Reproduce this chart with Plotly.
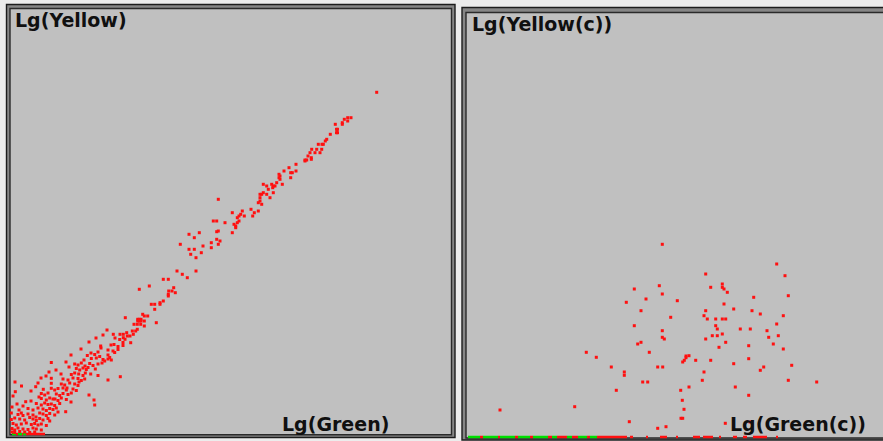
import plotly.graph_objects as go

W, H = 883, 441

# ---- Lg(Green) / Lg(Yellow) dot plot (channel units) ----
upper_green = [365.7, 340, 336.7, 333.3, 336.7, 331.3, 331.3, 324.3, 325.5, 326.5,
               325.5, 326.5, 319.3, 315.7, 314.3, 307.3, 311, 312.3, 305.7, 310.7,
               300.7, 299, 304, 309, 297, 300.3, 300.3, 294, 295.7, 294,
               285, 278, 273, 285, 279.7, 281.3, 279.7, 268, 268, 269,
               269, 265.7, 271.3, 260.7, 262.3, 264, 261.7, 252.3, 255.7, 257.3,
               262.3, 252.3, 249, 250.7, 255.7, 249, 259, 207.3, 249, 247.3,
               250.7, 240, 231.3, 247.3, 221.3, 243.3, 229.7, 228, 226.3, 233.3,
               241.7, 228, 226.3, 202.3, 205.7, 214, 223, 224.7, 224.7]
upper_yellow = [341.7, 316.3, 316.3, 314.7, 313, 311.3, 309.7, 309.7, 304.7, 304.7,
                301.3, 301.3, 299.7, 294.7, 293, 289.7, 289.7, 289.7, 284.7, 284.7,
                284.7, 281.3, 281.3, 281.3, 278, 276.3, 274.7, 274, 274, 273,
                269.7, 266.3, 263, 263, 261.3, 261.3, 256.3, 259.7, 256.3, 258,
                254.7, 251.3, 249.7, 249.7, 248, 248, 246.3, 249.7, 248, 244.7,
                241.3, 241.3, 239.7, 239.7, 239.7, 236.3, 236.3, 234.7, 233, 231.3,
                229.7, 224.7, 223, 223, 221.3, 221.3, 219.7, 218, 216.3, 218,
                218, 213, 211.3, 213, 213, 211.3, 209.7, 208, 206.3]

middle_green = [221.3, 205.7, 207.3, 178, 188.3, 183.3, 205.7, 209, 200.3, 207.3,
                169.3, 192, 200.3, 178, 183.3, 190.3, 179.7, 185, 166, 185,
                171.3, 176.3, 152.3, 157.3, 138.3, 162.7, 128.3, 157.7, 161, 164.3,
                157.3, 157.3, 152.3, 149, 149, 140.3, 143.7, 143.7, 131.7, 133.3,
                136.7, 114.3, 126.7, 128.3, 130, 126.7, 128.3, 130, 133.3, 123,
                126.3, 129.7, 133.3, 145.3, 126.3, 124.7, 121.3, 102.3, 109, 112.3,
                115.7, 119, 122.3, 112.3, 114, 116.3]
middle_yellow = [201.3, 202.3, 203, 199.7, 201.3, 196.3, 194.7, 193, 191.3, 189.7,
                 189.7, 188, 186.3, 184.7, 184.7, 181.3, 179.7, 176.3, 163, 163,
                 159.7, 156.3, 154.7, 154.7, 148, 146.3, 144.7, 143, 143, 141.3,
                 139.7, 138, 133, 131.3, 129.7, 129.7, 129.7, 124.7, 119.7, 118,
                 118, 116.3, 114.7, 114.7, 114.7, 113, 113, 113, 113, 109.7,
                 109.7, 109.7, 108, 111.3, 104.7, 103, 103, 99.7, 99.7, 99.7,
                 101.3, 98, 99.7, 96.3, 94.7, 98]

lower_green = [108.7, 112, 119.7,
               89.7, 103, 107, 112,
               87, 97, 102, 103.7, 107,
               76.3, 83.7, 88.7, 97,
               73, 80.3, 85.3, 92, 93.7, 97, 98.7, 100.3,
               40.3, 63.7, 67, 70.3, 78.7, 82, 87, 91,
               65.3, 68.7, 72, 75.3, 77, 84.3,
               60.3, 63.7, 67.7, 72, 74.3, 79.7, 87, 109.3,
               40.3, 52, 57, 62, 67, 70.3, 73.7, 97,
               40.3, 24.7, 50.3, 53.7, 58.7, 63.7, 67,
               40.3, 43.7, 47, 52, 55.3, 62, 65.3, 32.3,
               4.3, 30.3, 33.7, 37, 45.3, 48.7, 52, 57, 60.3, 78,
               14.7, 30.3, 35.3, 38.7, 42, 47, 50.3, 55.3, 83,
               25.3, 30.3, 33.7, 37, 40.3, 43.7, 48.7, 83.7,
               17, 22, 27, 32, 35.3, 38.7, 42, 45.3, 54.7,
               0.3, 7, 10.3, 12, 17, 22, 28.7, 32, 35.3, 38.7, 43.7,
               0.3, 3.7, 8.7, 13.7, 18.7, 22, 25.3, 28.7, 32, 37, 38.7,
               2, 5.3, 10.3, 15.3, 20.3, 23.7, 27, 30.3, 35.3,
               1, 3.7, 7, 12, 17, 22, 25.3, 30.3,
               1, 3.7, 8.7, 13.7, 18.7, 23.7,
               10.5, 4, 2, 6, 1, 20, 27, 35, 45, 55,
               60, 70, 78, 85, 92, 96, 30, 38, 50, 58,
               80, 90, 28, 20, 12, 8, 44, 56, 68, 74,
               100, 104, 60, 47, 25]
lower_yellow = [94.5, 91.5, 91.3,
                88, 89.5, 87.5, 88.5,
                82, 84, 83, 81.5, 84.5,
                78.5, 79.5, 77.5, 79,
                74, 75.5, 76, 74.5, 73, 75, 76.5, 74,
                71.5, 70, 69, 71, 70.5, 68.5, 70, 71,
                65.5, 64, 66, 64.5, 66.5, 65,
                59.5, 61, 60, 58.5, 61, 60, 58.5, 57.3,
                55.7, 55, 54, 56, 55.5, 53.5, 55, 54,
                50.7, 47.3, 50, 49, 51, 50, 48.5,
                45.7, 44, 45.5, 46, 44, 45, 43.5, 44.7,
                42.3, 40.5, 39, 41, 40, 38.5, 40.5, 39.5, 41, 39,
                32.3, 35.5, 34, 36, 35, 33.5, 36, 34.5, 34,
                30.5, 29, 31, 29.5, 30, 28.5, 30.5, 29,
                25.5, 24, 26, 25, 23.5, 25.5, 24.5, 26, 22.3,
                21, 19.5, 21, 18.5, 20, 19, 21, 20, 18.5, 20.5, 19,
                14.5, 16, 15, 14, 16.5, 15, 13.5, 15.5, 14, 15.5, 13,
                10.5, 9, 10, 11, 9.5, 10.5, 9, 10, 8.5,
                5.5, 4, 6, 5, 4.5, 6, 5, 4,
                2, 1.5, 2.5, 2, 1.5, 2,
                48, 52, 38, 30, 27, 43, 51, 58, 64, 72,
                79, 85, 92, 96, 99, 104, 56, 62, 60, 67,
                81, 86, 37, 33, 28, 24, 35, 46, 52, 68,
                89, 96, 32, 22, 17]

# events sitting on the Lg(Green) axis, as [from, to] channel spans
axis_green_spans = [(1, 5), (7, 11), (12, 15)]
axis_red_spans = [(5, 7), (11, 12), (15, 34)]

# ---- compensated Lg(Green(c)) / Lg(Yellow(c)) ----
green_c = [194.3, 308.7, 317, 237.7, 191.3, 166.3, 254.3, 254.3, 256, 242.7,
           259.3, 194.3, 178, 209.3, 285.7, 320.3, 158.3, 256, 173, 237.7,
           265.7, 284, 292.3, 236, 315.3, 202.7, 239.3, 247.7, 254.3, 257.7,
           308.7, 166.3, 247.7, 249.3, 272.3, 282.3, 299, 194.3, 244.3, 249.3,
           254.3, 310.3, 300.7, 194.3, 196.3, 237.7, 173, 169.7, 257.7, 305.3,
           280.7, 251, 315.3, 181.3, 118.3, 128.3, 218, 218, 221, 216.3,
           214.7, 227.7, 242.7, 280.7, 265.7, 323.7, 143.3, 189.7, 194.7, 295.7,
           292.3, 156.3, 156.3, 236, 234.3, 174.7, 179.7, 320.3, 348.7, 267.3,
           221, 148.3, 212.7, 280.7, 214.3, 216, 32, 106.7, 213, 214.7,
           161.3, 189.7, 198, 257.3, 282]
yellow_c = [192.7, 173, 161.3, 163, 151.3, 148, 153, 149.7, 148, 149.7,
            144.7, 143, 138, 136.3, 139.7, 141.3, 134.7, 133, 126.3, 126.3,
            128, 126.3, 123, 121.3, 121.3, 119.7, 118, 118, 118, 118,
            113, 111.3, 111.3, 108, 108, 108, 106.3, 106.3, 101.3, 101.3,
            103, 101.3, 99.7, 99.7, 98, 98, 94.7, 93, 94.7, 93,
            91.3, 89.7, 88, 84.7, 84.7, 79.7, 81, 79.3, 81.3, 76.7,
            75, 76.7, 76.7, 78.3, 73.3, 71.7, 70, 70, 70, 70,
            66.7, 65, 61.7, 65, 56.7, 55, 55, 56.7, 55, 50,
            50, 46.7, 46.7, 41.7, 36.7, 27.7, 27, 30.3, 18.7, 18.7,
            15.3, 8.7, 10.3, 13.7, 15]

axis_green_spans_c = [(0, 12), (15, 30), (32, 47), (50, 62), (65, 80), (84, 89),
                      (99, 104), (110, 119), (122, 129)]
axis_red_spans_c = [(12, 15), (30, 32), (47, 50), (62, 65), (80, 84), (89, 99),
                    (104, 110), (119, 122), (129, 159), (162, 165), (178, 180),
                    (192, 199), (208, 210), (225, 232), (235, 245), (251, 253),
                    (265, 269), (275, 279), (285, 299), (308, 310)]

lg_green = upper_green + middle_green + lower_green
lg_yellow = upper_yellow + middle_yellow + lower_yellow
assert len(lg_green) == len(lg_yellow)
assert len(green_c) == len(yellow_c)


def px(x):
    return x / W


def py(y):
    return 1 - y / H


def spans_xy(spans):
    xs, ys = [], []
    for a, b in spans:
        xs += [a, b, None]
        ys += [0, 0, None]
    return xs, ys


RED = "#FF1010"
GREEN = "#00E000"
dot = dict(symbol="square", size=3, color=RED, line=dict(width=0))

fig = go.Figure()

for spans, col, xa, ya in [
    (axis_green_spans, GREEN, "x", "y"),
    (axis_red_spans, RED, "x", "y"),
    (axis_green_spans_c, GREEN, "x2", "y2"),
    (axis_red_spans_c, RED, "x2", "y2"),
]:
    sx, sy = spans_xy(spans)
    fig.add_trace(go.Scatter(x=sx, y=sy, mode="lines", xaxis=xa, yaxis=ya,
                             line=dict(color=col, width=2.5), hoverinfo="skip"))

fig.add_trace(go.Scatter(x=lg_green, y=lg_yellow, mode="markers", marker=dot,
                         xaxis="x", yaxis="y", cliponaxis=False))
fig.add_trace(go.Scatter(x=green_c, y=yellow_c, mode="markers", marker=dot,
                         xaxis="x2", yaxis="y2", cliponaxis=False))

axis_common = dict(showgrid=False, zeroline=False, showticklabels=False,
                   ticks="", showline=False, fixedrange=True)

# panel frames: dark outer edge, grey bevel, dark inner edge
shapes = []
for (ox0, oy0, ox1, oy1), (ix0, iy0, ix1, iy1) in [
    ((6.5, 4.5, 455, 437.5), (10, 8.5, 451.5, 434.8)),
    ((462, 7.5, 900, 440), (466, 12.5, 900, 438)),
]:
    shapes.append(dict(type="rect", xref="paper", yref="paper", layer="below",
                       x0=px(ox0), x1=px(ox1), y0=py(oy1), y1=py(oy0),
                       fillcolor="#868686", line=dict(color="#1c1c1c", width=1.4)))
    shapes.append(dict(type="rect", xref="paper", yref="paper", layer="below",
                       x0=px(ix0), x1=px(ix1), y0=py(iy1), y1=py(iy0),
                       fillcolor="#C0C0C0", line=dict(color="#2a2a2a", width=1.4)))

label_font = dict(family="DejaVu Sans", size=19, color="#101010", weight="bold")
annotations = [
    dict(text="Lg(Yellow)", x=px(14), y=py(8), xanchor="left", yanchor="top"),
    dict(text="Lg(Green)", x=px(281), y=py(436), xanchor="left", yanchor="bottom"),
    dict(text="Lg(Yellow(c))", x=px(471), y=py(12), xanchor="left", yanchor="top"),
    dict(text="Lg(Green(c))", x=px(729), y=py(436), xanchor="left", yanchor="bottom"),
]
for a in annotations:
    a.update(xref="paper", yref="paper", showarrow=False, font=label_font,
             borderpad=0)

fig.update_layout(
    width=W, height=H,
    margin=dict(l=0, r=0, t=0, b=0),
    paper_bgcolor="#ECECEC",
    plot_bgcolor="rgba(0,0,0,0)",
    showlegend=False,
    xaxis=dict(domain=[px(11), px(451)], range=[0, 440], **axis_common),
    yaxis=dict(domain=[py(436), py(9)], range=[-2, 425], **axis_common),
    xaxis2=dict(domain=[px(467), 1], range=[-1, 415], anchor="y2", **axis_common),
    yaxis2=dict(domain=[py(439), py(14)], range=[-2, 423], anchor="x2", **axis_common),
    shapes=shapes,
    annotations=annotations,
)

fig.write_html("out.html", config=dict(displayModeBar=False))
